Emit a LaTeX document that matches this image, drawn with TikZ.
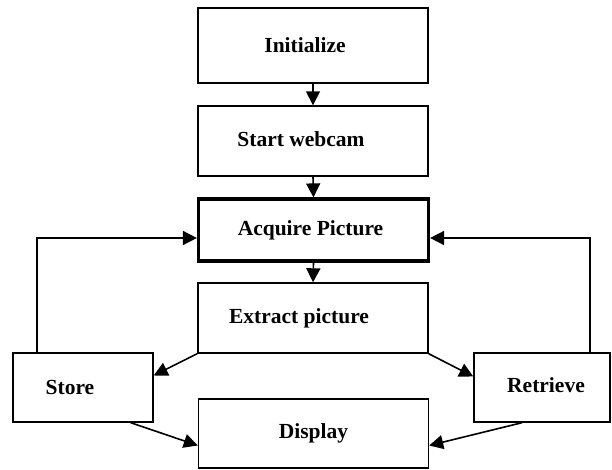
\documentclass[tikz,border=0pt]{standalone}
\usepackage{fontspec}
\setmainfont{Liberation Serif}
\usetikzlibrary{arrows.meta}
\tikzset{box/.style={draw,line width=1.4pt,minimum width=230pt,minimum height=70pt,
    inner sep=0pt,font=\bfseries\fontsize{21.5}{25}\selectfont},
    flow/.style={line width=1.6pt,-{Triangle[length=14pt,width=14pt]}},
    }

\begin{document}
\begin{tikzpicture}[x=1pt,y=-1pt]
	\useasboundingbox (0,0) rectangle (612,470);
	% main column
	\node[box,minimum height=75pt] (init) at (313,45.5) {Initialize\hspace*{16pt}};
	\node[box] (cam) at (313,141) {\raisebox{4pt}{Start webcam}\hspace*{24pt}};
	\node[box,line width=3.2pt,minimum height=62pt] (acq) at (313.5,230) {Acquire Picture\hspace*{6pt}};
	\node[box] (ext) at (313,318) {Extract picture\hspace*{28pt}};
	\node[box,minimum height=69pt] (disp) at (313.5,433.5) {Display};
	% side boxes
	\node[box,minimum width=140pt,minimum height=69pt] (store) at (83,387.5) {Store\hspace*{26pt}};
	\node[box,minimum width=136pt,minimum height=69pt] (retr) at (542,387.5) {\hspace*{8pt}\raisebox{4pt}{Retrieve}};
	\draw[flow] (init.south)--(cam.north);
	\draw[flow] (cam.south)--(acq.north);
	\draw[flow] (acq.south)--(ext.north);
	\draw[flow] (ext.south west)--([yshift=12pt]store.east);
	\draw[flow] (ext.south east)--([yshift=11pt]retr.west);
	\draw[flow] ([xshift=-23pt]store.south east)--([yshift=-12pt]disp.west);
	\draw[flow] ([xshift=-20pt]retr.south)--([yshift=-12pt]disp.east);
	% feedback loops
	\draw[flow] ([xshift=-46pt]store.north) |- ([yshift=-8pt]acq.west);
	\draw[flow] ([xshift=48pt]retr.north) |- ([yshift=-8pt]acq.east);
\end{tikzpicture}
\end{document}
